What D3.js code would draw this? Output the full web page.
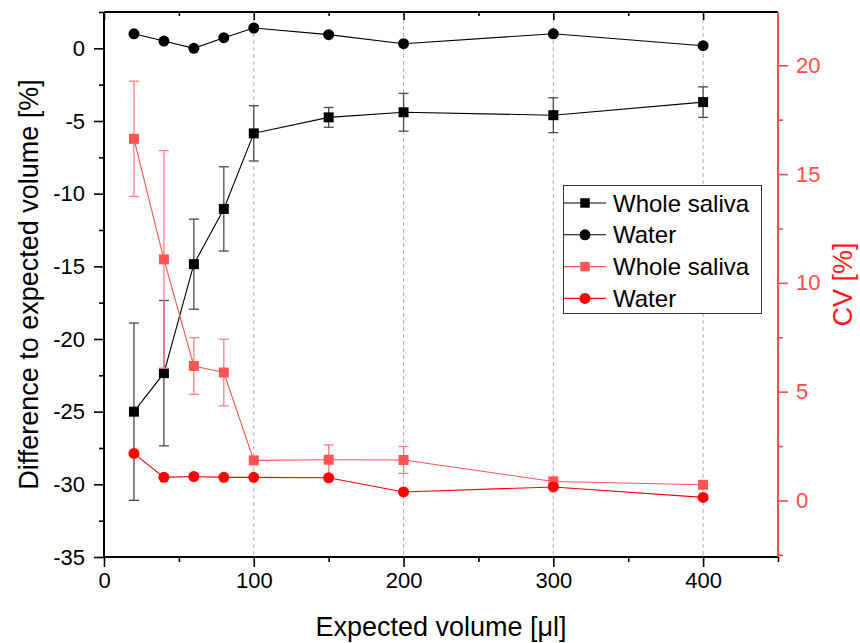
<!DOCTYPE html>
<html>
<head>
<meta charset="utf-8">
<script src="https://cdn.jsdelivr.net/npm/d3@7"></script>
<style>
  html, body { margin: 0; padding: 0; background: #fff; }
  svg { display: block; font-family: "Liberation Sans", Arial, sans-serif; }
</style>
</head>
<body>
<svg id="chart" width="860" height="643"></svg>
<script>
// ---- data ----
const volumes = [20, 40, 60, 80, 100, 150, 200, 300, 400];
const salivaDiff = [-25.0, -22.35, -14.85, -11.05, -5.85, -4.75, -4.4, -4.6, -3.7];
const salivaDiffErr = [6.1, 5.0, 3.1, 2.9, 1.9, 0.68, 1.3, 1.2, 1.05];
const waterDiff = [1.0, 0.5, 0.0, 0.73, 1.4, 0.94, 0.32, 1.0, 0.18];
const salivaCV = [16.62, 11.08, 6.18, 5.88, 1.84, 1.87, 1.86, 0.87, 0.72];
const salivaCVErr = [2.65, 5.0, 1.3, 1.53, 0, 0.68, 0.62, 0.2, 0];
const waterCV = [2.16, 1.06, 1.1, 1.06, 1.06, 1.04, 0.39, 0.62, 0.14];
const xTicks = [0, 100, 200, 300, 400];
const xMinorTicks = [50, 150, 250, 350, 450];
const yLeftTicks = [0, -5, -10, -15, -20, -25, -30, -35];
const yLeftMinor = [2.5, -2.5, -7.5, -12.5, -17.5, -22.5, -27.5, -32.5];
const yRightTicks = [0, 5, 10, 15, 20];
const yRightMinor = [-2.5, 2.5, 7.5, 12.5, 17.5, 22.5];
const legendLabels = ["Whole saliva", "Water", "Whole saliva", "Water"];

// ---- layout ----
const L = 104, R = 778, T = 12, B = 557;
const svg = d3.select("#chart");
const x = d3.scaleLinear().domain([0, 450]).range([L, R]);
const yL = d3.scaleLinear().domain([-35, 2.5]).range([B, T]);
const yR = d3.scaleLinear().domain([-2.6, 22.45]).range([B, T]);
const fmt = d => String(d);

const BLACK = "#000";
const RED = "#ff0000";
const LRED = "#ff5555";
const AXRED = "#ff4d4d";

// grid lines
svg.append("g").selectAll("line").data([100, 200, 300, 400]).join("line")
  .attr("x1", d => x(d)).attr("x2", d => x(d)).attr("y1", T).attr("y2", B)
  .attr("stroke", "#b0b0b0").attr("stroke-width", 1).attr("stroke-dasharray", "4,3");

// bottom axis
const gx = svg.append("g").attr("transform", `translate(0,${B})`)
  .call(d3.axisBottom(x).tickValues(xTicks).tickSize(10).tickPadding(5).tickFormat(fmt));
gx.append("g").call(d3.axisBottom(x).tickValues(xMinorTicks).tickSize(5).tickFormat(""));
// top axis (inward ticks)
const gt = svg.append("g").attr("transform", `translate(0,${T})`)
  .call(d3.axisBottom(x).tickValues(xTicks).tickSize(8).tickFormat(""));
gt.append("g").call(d3.axisBottom(x).tickValues(xMinorTicks.filter(d => d < 450)).tickSize(4).tickFormat(""));

// left axis
const gl = svg.append("g").attr("transform", `translate(${L},0)`)
  .call(d3.axisLeft(yL).tickValues(yLeftTicks).tickSize(10).tickPadding(9).tickFormat(fmt));
gl.append("g").call(d3.axisLeft(yL).tickValues(yLeftMinor).tickSize(5).tickFormat(""));

// right axis
const gr = svg.append("g").attr("transform", `translate(${R},0)`)
  .call(d3.axisRight(yR).tickValues(yRightTicks).tickSize(10).tickPadding(8).tickFormat(fmt));
gr.append("g").call(d3.axisRight(yR).tickValues(yRightMinor.filter(d => yR(d) >= T && yR(d) <= B)).tickSize(5).tickFormat(""));

[gx, gt, gl, gr].forEach(g => {
  g.selectAll(".domain").attr("stroke-width", 2);
  g.selectAll(".tick line").attr("stroke-width", 1.6);
  g.selectAll("text").attr("font-size", 22).attr("font-family", "Liberation Sans, Arial, sans-serif").attr("fill", "#000");
});
gt.selectAll(".domain").attr("d", `M${L},0H${R}`);
gx.selectAll(".domain").attr("d", `M${L},0H${R}`);
gl.selectAll(".domain").attr("d", `M0,${T}V${B}`);
gr.selectAll(".domain").attr("d", `M0,${T}V${B}`);
gr.selectAll(".domain, .tick line").attr("stroke", AXRED);
gr.selectAll("text").attr("fill", AXRED);

// axis titles
svg.append("text").attr("x", (L + R) / 2).attr("y", 636).attr("text-anchor", "middle")
  .attr("font-size", 27).attr("fill", "#000").text("Expected volume [μl]");
svg.append("text").attr("transform", `translate(38,${(T + B) / 2}) rotate(-90)`).attr("text-anchor", "middle")
  .attr("font-size", 27).attr("fill", "#000").text("Difference to expected volume [%]");
svg.append("text").attr("transform", `translate(852,${(T + B) / 2}) rotate(-90)`).attr("text-anchor", "middle")
  .attr("font-size", 27).attr("fill", "#ff1a1a").text("CV [%]");

// drawing helpers
function errorBars(vals, errs, ys, color) {
  const g = svg.append("g").attr("stroke", color).attr("stroke-width", 1.3).attr("fill", "none");
  volumes.forEach((v, i) => {
    if (!errs[i]) return;
    const cx = x(v), y1 = ys(vals[i] + errs[i]), y2 = ys(vals[i] - errs[i]);
    g.append("line").attr("x1", cx).attr("x2", cx).attr("y1", y1).attr("y2", y2);
    g.append("line").attr("x1", cx - 5).attr("x2", cx + 5).attr("y1", y1).attr("y2", y1);
    g.append("line").attr("x1", cx - 5).attr("x2", cx + 5).attr("y1", y2).attr("y2", y2);
  });
}
function series(vals, ys, color, shape) {
  svg.append("path").datum(vals)
    .attr("d", d3.line().x((d, i) => x(volumes[i])).y(d => ys(d)))
    .attr("fill", "none").attr("stroke", color).attr("stroke-width", 1.1);
  const sym = d3.symbol().type(shape === "square" ? d3.symbolSquare : d3.symbolCircle)
    .size(shape === "square" ? 100 : 95);
  svg.append("g").selectAll("path").data(vals).join("path")
    .attr("transform", (d, i) => `translate(${x(volumes[i])},${ys(d)})`)
    .attr("d", sym).attr("fill", color);
}

errorBars(salivaDiff, salivaDiffErr, yL, "#4a4a4a");
series(salivaDiff, yL, BLACK, "square");
series(waterDiff, yL, BLACK, "circle");
errorBars(salivaCV, salivaCVErr, yR, "#ff8080");
series(salivaCV, yR, LRED, "square");
series(waterCV, yR, RED, "circle");

// legend
const lg = svg.append("g");
lg.append("rect").attr("x", 563.5).attr("y", 185.5).attr("width", 198).attr("height", 128)
  .attr("fill", "#fff").attr("stroke", "#333").attr("stroke-width", 1);
const legendColors = [BLACK, BLACK, LRED, RED];
const legendShapes = ["square", "circle", "square", "circle"];
legendLabels.forEach((lab, i) => {
  const cy = 203 + i * 31.8;
  lg.append("line").attr("x1", 564).attr("x2", 606).attr("y1", cy).attr("y2", cy)
    .attr("stroke", legendColors[i]).attr("stroke-width", 1.1);
  const sym = d3.symbol().type(legendShapes[i] === "square" ? d3.symbolSquare : d3.symbolCircle)
    .size(legendShapes[i] === "square" ? 90 : 95);
  lg.append("path").attr("transform", `translate(585,${cy})`).attr("d", sym).attr("fill", legendColors[i]);
  lg.append("text").attr("x", 613).attr("y", cy + 8.5).attr("font-size", 24).attr("fill", "#000").text(lab);
});
</script>
</body>
</html>
